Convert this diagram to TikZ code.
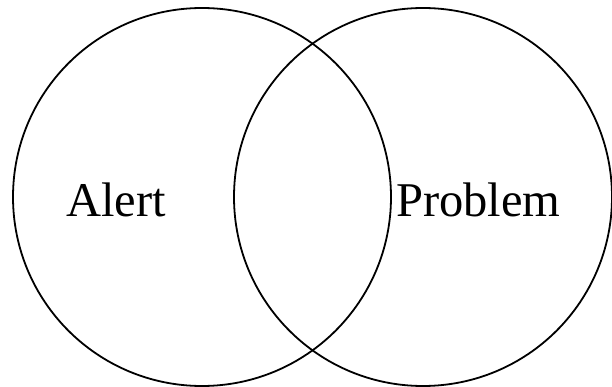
\documentclass[tikz,border=0pt]{standalone}
\usepackage{fontspec}
\setmainfont{Liberation Serif}

\begin{document}
\begin{tikzpicture}[x=1pt,y=-1pt]

\useasboundingbox (0,0) rectangle (612,387);

\draw[line width=1.8pt] (202,197) circle (189pt);
\draw[line width=1.8pt] (423,197) circle (189pt);


\node[anchor=base west,inner sep=0pt,font=\fontsize{48.5}{58}\selectfont] (alert) at (66,216) {Alert};
\node[anchor=base west,inner sep=0pt,font=\fontsize{48.5}{58}\selectfont] (problem) at (396,216) {Problem};

\end{tikzpicture}
\end{document}
